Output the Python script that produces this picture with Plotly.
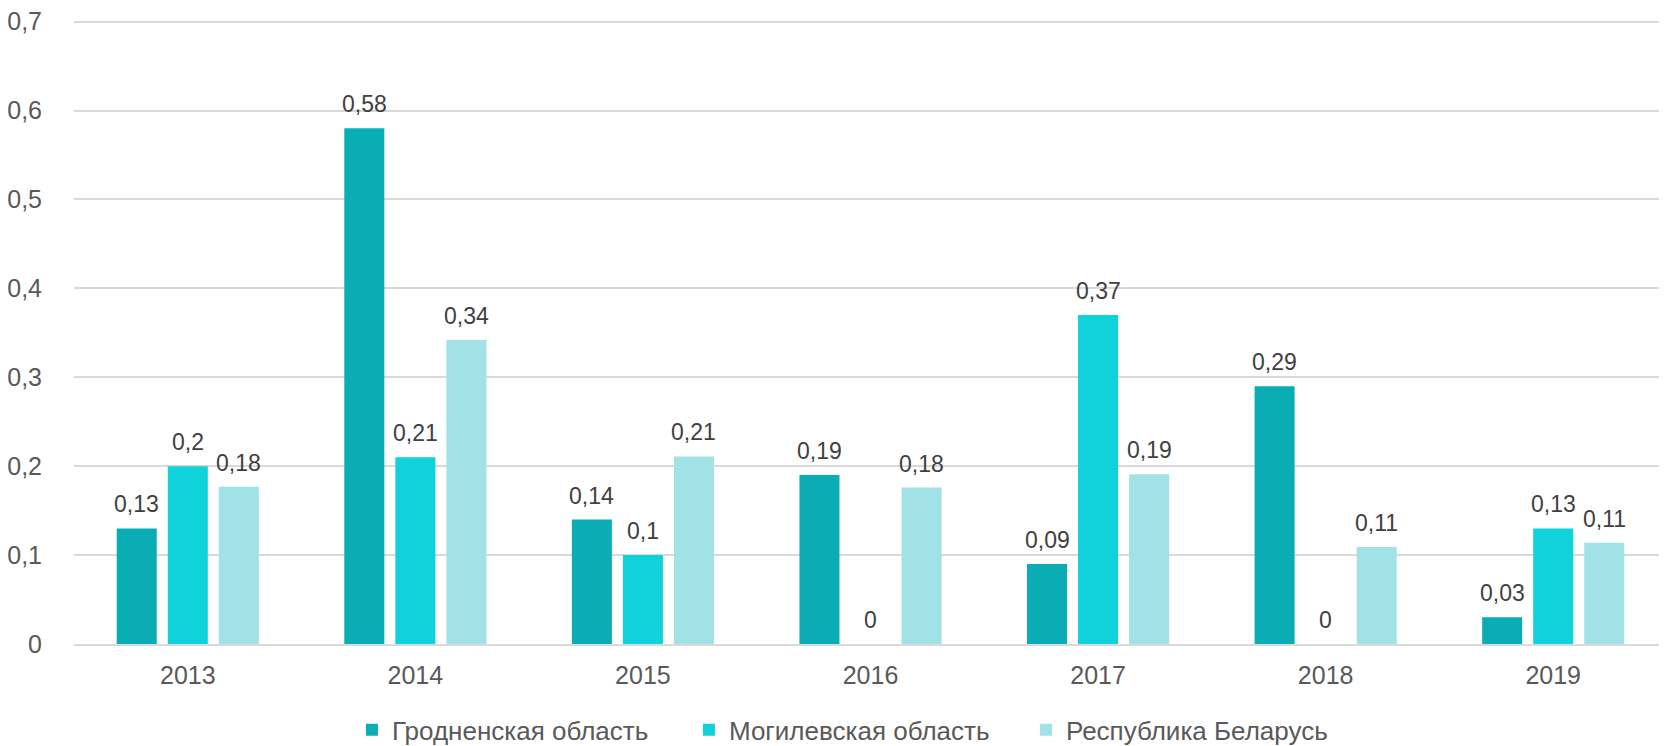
import plotly.graph_objects as go

years = ["2013", "2014", "2015", "2016", "2017", "2018", "2019"]
series_names = ["Гродненская область", "Могилевская область", "Республика Беларусь"]
grodno = [0.13, 0.58, 0.14, 0.19, 0.09, 0.29, 0.03]
mogilev = [0.20, 0.21, 0.10, 0.0, 0.37, 0.0, 0.13]
belarus = [0.177, 0.342, 0.211, 0.176, 0.191, 0.109, 0.114]
grodno_labels = ["0,13", "0,58", "0,14", "0,19", "0,09", "0,29", "0,03"]
mogilev_labels = ["0,2", "0,21", "0,1", "0", "0,37", "0", "0,13"]
belarus_labels = ["0,18", "0,34", "0,21", "0,18", "0,19", "0,11", "0,11"]
y_ticks = [0, 0.1, 0.2, 0.3, 0.4, 0.5, 0.6, 0.7]

colors = ["#0BADB5", "#0FD2DA", "#A1E2E6"]
FONT = "Liberation Sans, Arial, sans-serif"

# page body has an 8px default margin, so the figure is sized to fit inside it
W, H = 1659, 738
ML, MR, MT, MB = 66, 0, 11, 102
BARGAP = 0.327
BARGROUPGAP = 0.216

fig = go.Figure()
all_vals = [grodno, mogilev, belarus]
all_labels = [grodno_labels, mogilev_labels, belarus_labels]
for name, vals, col in zip(series_names, all_vals, colors):
    fig.add_trace(go.Bar(x=years, y=vals, name=name, marker_color=col,
                         marker_line_width=0, hoverinfo="skip"))

plot_w = W - ML - MR
slot = plot_w / len(years) * (1 - BARGAP) / 3
for k, (vals, labs) in enumerate(zip(all_vals, all_labels)):
    for i, (v, t) in enumerate(zip(vals, labs)):
        fig.add_annotation(x=i, y=v, text=t, showarrow=False, xref="x", yref="y",
                           xshift=(k - 1) * slot, yanchor="bottom", yshift=9,
                           font=dict(family=FONT, size=23, color="#404040"))

fig.update_layout(
    width=W, height=H,
    margin=dict(l=ML, r=MR, t=MT, b=MB),
    paper_bgcolor="white", plot_bgcolor="white",
    barmode="group", bargap=BARGAP, bargroupgap=BARGROUPGAP,
    separators=", ",
    font=dict(family=FONT, size=25, color="#595959"),
    showlegend=True,
    legend=dict(orientation="h", x=0.4918, xanchor="center",
                yref="container", y=0.022, yanchor="middle",
                font=dict(family=FONT, size=26, color="#595959"),
                itemsizing="constant", traceorder="normal", entrywidth=292),
    xaxis=dict(type="category", categoryarray=years, categoryorder="array",
               range=[-0.5, len(years) - 0.5],
               showgrid=False, showline=True, linecolor="#D9D9D9",
               linewidth=2, ticks="", ticklabelstandoff=8,
               tickfont=dict(size=25, color="#595959")),
    yaxis=dict(range=[0, 0.703], tickvals=y_ticks, showgrid=True, gridcolor="#D9D9D9",
               gridwidth=1.5, zeroline=False, showline=False, ticks="",
               ticklabelstandoff=31, ticklabeloverflow="allow",
               tickfont=dict(size=25, color="#595959")),
)

fig.write_html("out.html")
